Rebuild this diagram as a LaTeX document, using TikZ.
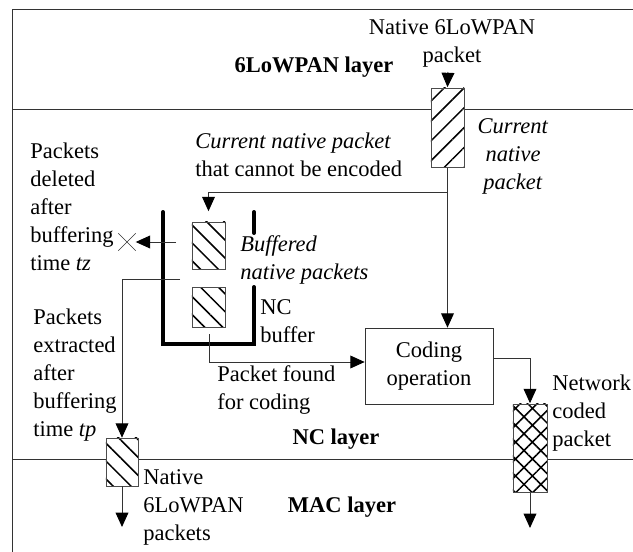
\documentclass[tikz,border=0pt]{standalone}
\usepackage{fontspec}
\setmainfont{Liberation Serif}
\usetikzlibrary{arrows.meta, patterns.meta, shapes.misc, positioning}
\tikzstyle{frame} = [draw=black!80, line width=0.7pt]
\tikzstyle{pkt} = [rectangle, draw=black!70, inner sep=0pt, minimum width=0.825cm, preaction={fill=white}]
\tikzstyle{hatchne} = [pattern={Lines[angle=45, distance=10pt, line width=1.1pt]}]
\tikzstyle{hatchnw} = [pattern={Lines[angle=-45, distance=9pt, line width=1.1pt]}]
\tikzstyle{crossed} = [pattern={Hatch[angle=45, distance=8.5pt, line width=1.1pt]}]
\tikzstyle{normal} = [rectangle, draw=black!80, minimum width=3.2cm, minimum height=1.9cm, align=center, inner sep=0pt]
\tikzstyle{txt} = [inner sep=0pt, align=left, anchor=west]
\tikzstyle{wall} = [line width=0.1cm, line cap=round]
\tikzstyle{arrow} = [draw=black!80, line width=0.7pt, ->, >={Triangle[length=0.36cm, width=0.32cm, color=black]}]

\begin{document}
\begin{tikzpicture}[x=0.025cm, y=-0.025cm, font=\fontsize{16}{19.9}\selectfont, node distance=1.55cm]
\useasboundingbox (0,0) rectangle (633,552);

%% LAYERS

\draw [frame] (633,9) -- (12,9) -- (12,552);
\draw [frame] (12,109) -- (633,109);
\draw [frame] (12,459) -- (633,459);

%% NC BUFFER

\draw [wall] (163,212) -- (163,344) -- (254,344) -- (254,287);
\draw [wall] (254,212) -- (254,233);

%% NODES

\node (pkt_in) [pkt, hatchne, minimum height=1.975cm] at (447.5,127.5) {};
\node (pkt_b1) [pkt, hatchnw, minimum height=1.175cm] at (208.5,245.5) {};
\node (pkt_b2) [pkt, hatchnw, minimum height=1cm, below of=pkt_b1] {};
\node (coding) [normal] at (429,366) {Coding\\operation};
\node (pkt_coded) [pkt, crossed, minimum width=0.85cm, minimum height=2.2cm] at (530,448) {};
\node (pkt_out) [pkt, hatchnw, minimum width=0.8cm, minimum height=1.2cm] at (122,462) {};
\node (del_x) [cross out, draw=black!80, minimum size=0.42cm, inner sep=0pt] at (127,242) {};

\node (in_label) [align=center, inner sep=0pt] at (452,43) {Native 6LoWPAN\\packet};
\node (top_layer) [inner sep=0pt] at (314,67) {\textbf{6LoWPAN layer}};
\node (cur_label) [align=center, inner sep=0pt] at (513,156) {\textit{Current}\\\textit{native}\\\textit{packet}};
\node (fail_label) [txt] at (195,155) {\textit{Current native packet}\\that cannot be encoded};
\node (del_label) [txt] at (30,207) {Packets\\deleted\\after\\buffering\\time \textit{tz}};
\node (ext_label) [txt] at (33,375) {Packets\\extracted\\after\\buffering\\time \textit{tp}};
\node (buf_label) [txt] at (240,259.5) {\textit{Buffered}\\\textit{native packets}};
\node (nc_label) [txt] at (260,321) {NC\\buffer};
\node (found_label) [txt] at (217,390) {Packet found\\for coding};
\node (coded_label) [txt] at (552,413) {Network\\coded\\packet};
\node (out_label) [txt] at (143,507) {Native\\6LoWPAN\\packets};
\node (nc_layer) [inner sep=0pt] at (336,439) {\textbf{NC layer}};
\node (mac_layer) [inner sep=0pt] at (342,507) {\textbf{MAC layer}};

\coordinate (in_src) at (448,72);
\coordinate (fb_turn) at (208.5,192);
\coordinate (del_src) at (176,242);
\coordinate (ext_src) at (180,279);
\coordinate (found_src) at (209,334);
\coordinate (out_end) at (122,527);
\coordinate (coded_end) at (530,528);

%% ARROWS

\draw [arrow] (in_src) -- (pkt_in.north);
\draw [arrow] (pkt_in.south) |- (fb_turn) -- ([yshift=0.25cm]pkt_b1.north);
\draw [arrow] (pkt_in.south) -- (pkt_in.south |- coding.north);
\draw [arrow] (del_src) -- (del_x.east);
\draw [arrow] (ext_src) -| (pkt_out.north);
\draw [arrow] (found_src) |- ([yshift=0.1cm]coding.west);
\draw [arrow] ([yshift=0.2cm]coding.east) -| (pkt_coded.north);
\draw [arrow] (pkt_coded.south) -- (coded_end);
\draw [arrow] (pkt_out.south) -- (out_end);

\end{tikzpicture}
\end{document}
